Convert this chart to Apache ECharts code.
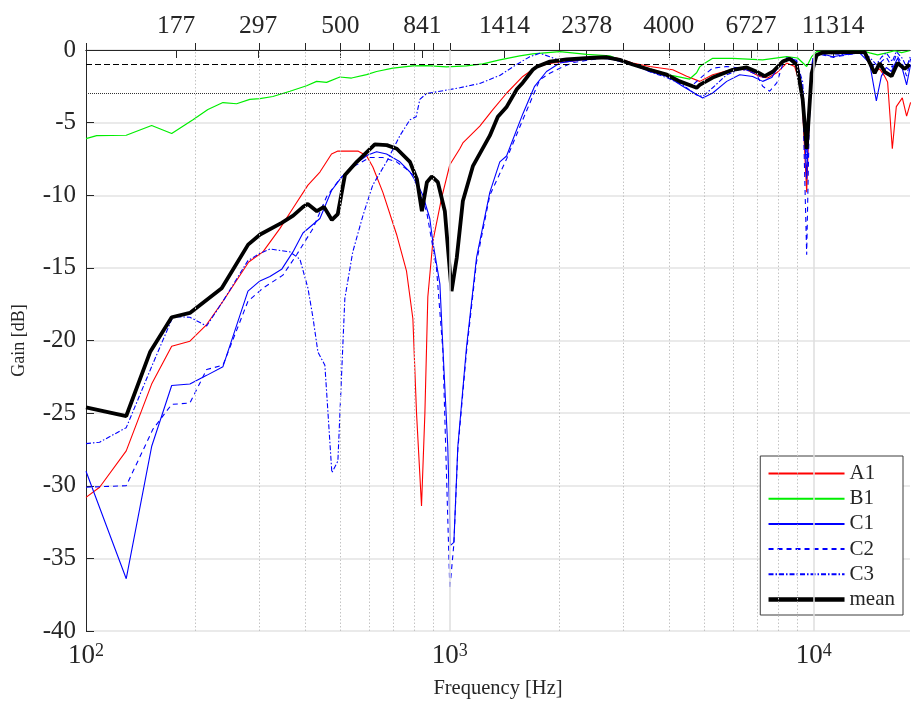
<!DOCTYPE html>
<html>
<head>
<meta charset="utf-8">
<script src="https://cdn.jsdelivr.net/npm/echarts@6/dist/echarts.min.js"></script>
<style>
  html, body { margin: 0; padding: 0; background: #fff; }
  #chart { width: 911px; height: 704px; }
</style>
</head>
<body>
<div id="chart"></div>
<script>
// Frequency response per channel: frequency [Hz] and gain [dB]
const freqA1 = [100, 109, 129, 151.5, 172, 193, 214.6, 237.9, 280, 306.4, 341, 370.5, 407.4, 439.5, 473, 492.4, 558.8, 590.4, 614.4, 654.6, 714, 760, 791.5, 810, 836, 854, 870, 898, 949, 1000, 1065, 1086, 1209, 1313, 1434, 1587, 1734, 1919, 2177, 2583, 2876, 3183, 3544, 4099, 4478, 4863, 5278, 5990, 6545, 7106, 7476, 7916, 8432, 8869, 9268, 9568, 9750, 9937, 10387, 13808, 14712, 15185, 15668, 15969, 16451, 16873, 17526, 18010, 18470];
const gainA1 = [-30.8, -30.1, -27.6, -23.0, -20.4, -20.05, -18.9, -17.3, -14.6, -13.9, -12.3, -10.9, -9.3, -8.4, -7.16, -6.96, -6.96, -7.28, -8.05, -9.8, -12.7, -15.2, -18.5, -25.0, -31.4, -25.0, -17.0, -13.2, -10.2, -7.9, -6.8, -6.4, -5.24, -4.1, -2.96, -1.82, -1.14, -0.9, -0.77, -0.46, -0.55, -0.9, -1.14, -1.36, -1.8, -2.16, -1.7, -1.32, -1.36, -1.82, -1.93, -1.57, -0.9, -1.14, -2.7, -9.8, -3.9, -0.68, -0.18, -0.15, -1.5, -1.3, -1.8, -2.2, -6.8, -3.9, -3.3, -4.55, -3.6];

const freqB1 = [100, 107, 129, 151.5, 172, 196.8, 216.3, 237.9, 259.4, 282, 300.6, 326.4, 363.5, 404, 430.4, 458.4, 498.6, 536.9, 590.4, 629, 697.4, 791.5, 863, 979, 1111, 1233, 1372, 1557, 1690, 2006, 2379, 2752, 2931, 3544, 4099, 4563, 4768, 4863, 4955, 5278, 5990, 7243, 8432, 9036, 9568, 9874, 10191, 13635, 14251, 14994, 15868, 16691, 17449, 18353];
const gainB1 = [-6.1, -5.9, -5.87, -5.2, -5.75, -4.8, -4.1, -3.62, -3.7, -3.4, -3.35, -3.2, -2.84, -2.46, -2.16, -2.23, -1.86, -1.93, -1.7, -1.48, -1.25, -1.09, -1.07, -1.16, -1.09, -0.95, -0.68, -0.4, -0.27, -0.11, -0.3, -0.4, -0.68, -1.3, -1.77, -2.0, -1.57, -1.16, -1.0, -0.57, -0.57, -0.68, -0.46, -0.55, -1.14, -0.46, -0.11, -0.05, -0.2, -0.34, -0.2, -0.05, -0.18, -0.05];

const freqC1 = [100, 129, 151.5, 172, 193, 214.6, 237.9, 278.7, 300.6, 320.3, 344.9, 370.5, 394.7, 439.5, 473, 504, 541, 595, 629, 670, 729, 777, 817, 843, 881, 898, 939, 957, 987, 1004, 1026, 1052, 1111, 1184, 1288, 1372, 1432, 1587, 1710, 1844, 2006, 2276, 2583, 2876, 3183, 3544, 3947, 4366, 4768, 4955, 5278, 5768, 6262, 6798, 7243, 7668, 8068, 8486, 8981, 9328, 9568, 9628, 9937, 10387, 11276, 12014, 13380, 14251, 14870, 15350, 15838, 16349, 17014, 17558, 18010, 18470];
const gainC1 = [-29.0, -36.4, -27.3, -23.1, -23.0, -22.4, -21.8, -16.6, -15.9, -15.6, -15.1, -13.9, -12.6, -11.6, -9.67, -8.75, -7.96, -7.23, -7.0, -7.16, -7.7, -8.4, -9.3, -10.0, -11.6, -13.2, -16.1, -20.5, -27.3, -34.1, -33.9, -27.3, -20.5, -14.3, -9.8, -7.7, -7.3, -4.4, -2.5, -1.48, -0.9, -0.68, -0.57, -0.65, -1.0, -1.48, -1.8, -2.5, -3.07, -3.3, -2.96, -2.16, -1.7, -1.82, -2.16, -1.9, -1.0, -0.57, -0.7, -2.7, -8.9, -7.0, -0.68, -0.2, -0.46, -0.34, -0.2, -0.9, -3.5, -1.8, -1.2, -1.48, -0.57, -1.36, -2.4, -1.0];

const freqC2 = [100, 129, 152.8, 172, 193, 214.6, 237.9, 278.7, 306.4, 347.7, 379.2, 420.4, 458.4, 498.6, 541.4, 602.8, 654.6, 714, 760, 791.5, 863, 919, 957, 1000, 1026, 1052, 1111, 1184, 1288, 1432, 1587, 1767, 1883, 2006, 2177, 2583, 2876, 3183, 3544, 3947, 4366, 4652, 4955, 5278, 5768, 6382, 6973, 7243, 7571, 7916, 8221, 8592, 9036, 9328, 9568, 9750, 9937, 10387, 11276, 13380, 14251, 14870, 15350, 15838, 16451, 16873, 17558, 18010, 18470];
const gainC2 = [-30.1, -30.0, -26.1, -24.4, -24.3, -22.0, -21.7, -17.3, -16.4, -15.5, -14.1, -12.3, -10.1, -8.87, -8.05, -7.4, -7.4, -7.7, -8.2, -8.6, -11.1, -15.0, -20.7, -37.1, -34.0, -27.5, -20.8, -14.6, -10.0, -7.5, -4.8, -2.05, -1.6, -1.25, -0.87, -0.57, -0.6, -1.0, -1.4, -1.8, -2.3, -2.4, -1.8, -1.25, -1.14, -1.25, -1.7, -2.5, -2.84, -2.27, -1.0, -0.46, -0.9, -3.0, -14.1, -3.5, -0.8, -0.3, -0.5, -0.2, -0.7, -1.4, -0.8, -0.5, -1.2, -0.3, -1.0, -1.8, -0.6];

const freqC3 = [100, 109, 129, 151.5, 173.4, 193, 214.6, 237.9, 278.7, 300.6, 320.3, 363.5, 387.2, 407.4, 420.4, 434, 453.5, 474, 492.4, 514.6, 541, 577, 614, 670, 729, 777, 808, 827, 863, 939, 1065, 1209, 1372, 1525, 1659, 1767, 1883, 2006, 2096, 2379, 2700, 3183, 3544, 3947, 4366, 4768, 4955, 5278, 5768, 6262, 6798, 7243, 7668, 8068, 8486, 8981, 9328, 9568, 9750, 9937, 10387, 12014, 13380, 14251, 14870, 15350, 15838, 16451, 16873, 17558, 18010, 18470];
const gainC3 = [-27.1, -27.0, -26.0, -21.8, -18.35, -18.4, -19.0, -17.3, -14.5, -14.0, -13.7, -13.9, -14.4, -16.4, -18.4, -20.8, -21.7, -29.1, -28.3, -17.1, -13.9, -11.4, -9.3, -7.7, -5.9, -4.8, -4.6, -3.4, -3.0, -2.84, -2.6, -2.3, -1.75, -1.0, -0.46, -0.23, -0.46, -0.73, -0.8, -0.6, -0.57, -1.0, -1.5, -1.9, -2.4, -3.1, -3.2, -2.6, -1.7, -1.35, -1.45, -1.9, -1.6, -0.9, -0.5, -0.8, -2.2, -7.5, -3.0, -0.6, -0.2, -0.3, -0.15, -0.5, -1.0, -0.5, -0.2, -0.8, -0.1, -0.6, -1.2, -0.4];

const freqMean = [100, 129, 150, 172, 193, 236, 279, 301, 345, 371, 395, 407, 431, 451, 474, 492, 515, 555, 622, 671, 715, 777, 812, 838, 865, 892, 927, 969, 1011, 1045, 1086, 1157, 1288, 1355, 1434, 1528, 1587, 1690, 1734, 1883, 2096, 2424, 2700, 2931, 3183, 3544, 3947, 4284, 4652, 4768, 4863, 5278, 5990, 6545, 6973, 7336, 7719, 8221, 8592, 8981, 9328, 9568, 9874, 10191, 10585, 12014, 13808, 14712, 15185, 15668, 16379, 17014, 17783, 18353];
const gainMean = [-24.6, -25.2, -20.8, -18.4, -18.1, -16.4, -13.4, -12.7, -11.9, -11.4, -10.8, -10.6, -11.1, -10.8, -11.7, -11.3, -8.6, -7.7, -6.5, -6.55, -6.8, -7.7, -8.9, -11.1, -9.1, -8.7, -9.1, -11.1, -16.6, -14.3, -10.4, -8.0, -5.9, -4.6, -3.9, -2.7, -2.25, -1.36, -1.15, -0.8, -0.64, -0.55, -0.5, -0.68, -1.0, -1.36, -1.7, -2.16, -2.5, -2.6, -2.4, -1.9, -1.36, -1.2, -1.5, -1.8, -1.5, -0.8, -0.6, -1.0, -3.4, -6.8, -1.6, -0.35, -0.18, -0.15, -0.15, -1.6, -0.9, -1.5, -1.8, -0.9, -1.3, -1.0];

// Axis ranges, ticks and reference levels
const freqMin = 100;
const freqMax = 18400;
const bandTicks = [177, 297, 500, 841, 1414, 2378, 4000, 6727, 11314];
const bottomTicks = [100, 200, 300, 400, 500, 600, 700, 800, 900, 1000, 2000, 3000, 4000, 5000, 6000, 7000, 8000, 9000, 10000];
const decadeLabels = [100, 1000, 10000];
const minorGrid = [200, 300, 400, 500, 600, 700, 800, 900, 2000, 3000, 4000, 5000, 6000, 7000, 8000, 9000];
const majorGrid = [1000, 10000];
const levelDashed = -1;
const levelDotted = -3;

const FONT = '"Liberation Serif", "DejaVu Serif", serif';
const INK = '#262626';

function pairs(f, g) { return f.map((v, i) => [v, g[i]]); }

const chart = echarts.init(document.getElementById('chart'), null, { renderer: 'canvas' });

function curve(name, f, g, color, width, type, z) {
  return {
    name: name, type: 'line', xAxisIndex: 0, yAxisIndex: 0,
    data: pairs(f, g), symbol: 'none', showSymbol: false, smooth: false,
    lineStyle: { color: color, width: width, type: type }, itemStyle: { color: color },
    z: z, animation: false, silent: true
  };
}

const option = {
  animation: false,
  backgroundColor: '#ffffff',
  textStyle: { fontFamily: FONT, color: INK },
  grid: { left: 86, right: 1, top: 50, bottom: 67.5, containLabel: false },
  legend: {
    orient: 'vertical', right: 8, top: 456,
    data: ['A1', 'B1', 'C1', 'C2', 'C3', { name: 'mean', lineStyle: { width: 4.5 } }],
    itemWidth: 76, itemHeight: 14, itemGap: 4.2,
    padding: [7, 8, 5, 6],
    itemStyle: { opacity: 0, borderWidth: 0 },
    backgroundColor: '#ffffff', borderColor: '#3c3c3c', borderWidth: 1,
    textStyle: { fontFamily: FONT, fontSize: 21, color: INK },
    selectedMode: false
  },
  xAxis: [
    {
      type: 'log', logBase: 10, min: freqMin, max: freqMax, position: 'bottom',
      name: 'Frequency [Hz]', nameLocation: 'middle', nameGap: 47,
      nameTextStyle: { fontFamily: FONT, fontSize: 20.5, color: INK },
      axisLine: { show: true, lineStyle: { color: INK, width: 1 } },
      axisTick: { show: true, inside: true, length: 7, customValues: bottomTicks, lineStyle: { color: INK } },
      axisLabel: {
        show: true, margin: 11, customValues: decadeLabels,
        formatter: function (v) { return '{b|10}{e|' + Math.round(Math.log10(v)) + '}'; },
        rich: {
          b: { fontFamily: FONT, fontSize: 27, color: INK, verticalAlign: 'bottom' },
          e: { fontFamily: FONT, fontSize: 18, color: INK, verticalAlign: 'top' }
        }
      },
      splitLine: { show: false }, minorTick: { show: false }
    },
    {
      type: 'log', logBase: 10, min: freqMin, max: freqMax, position: 'top',
      axisLine: { show: true, lineStyle: { color: INK, width: 1 } },
      axisTick: { show: true, inside: true, length: 8, customValues: bandTicks, lineStyle: { color: INK } },
      axisLabel: {
        show: true, margin: 11, customValues: bandTicks,
        fontFamily: FONT, fontSize: 25.5, color: INK,
        formatter: function (v) { return String(Math.round(v)); }
      },
      splitLine: { show: false }
    }
  ],
  yAxis: {
    type: 'value', min: -40, max: 0, interval: 5,
    name: 'Gain [dB]', nameLocation: 'middle', nameGap: 58,
    nameTextStyle: { fontFamily: FONT, fontSize: 18, color: INK },
    axisLine: { show: true, lineStyle: { color: INK, width: 1 } },
    axisTick: { show: true, inside: true, length: 8, lineStyle: { color: INK } },
    axisLabel: { fontFamily: FONT, fontSize: 25, color: INK, margin: 10 },
    splitLine: { show: true, lineStyle: { color: '#e3e3e3', width: 1.5 } }
  },
  series: [
    {
      name: 'grid', type: 'line', data: [], xAxisIndex: 0, yAxisIndex: 0, silent: true, z: 1,
      markLine: {
        silent: true, symbol: ['none', 'none'], label: { show: false }, animation: false,
        data: minorGrid.map(v => ({ xAxis: v, lineStyle: { color: '#c4c4c4', width: 1, type: [1.5, 2] } }))
          .concat(majorGrid.map(v => ({ xAxis: v, lineStyle: { color: '#dedede', width: 1.5, type: 'solid' } })))
          .concat([
            { yAxis: levelDashed, lineStyle: { color: '#000', width: 1, type: [6, 3] } },
            { yAxis: levelDotted, lineStyle: { color: '#333', width: 1, type: [1, 1] } }
          ])
      }
    },
    curve('A1', freqA1, gainA1, '#ff0000', 1.1, 'solid', 3),
    curve('B1', freqB1, gainB1, '#00ee00', 1.2, 'solid', 3),
    curve('C1', freqC1, gainC1, '#0000ff', 1.1, 'solid', 3),
    curve('C2', freqC2, gainC2, '#0000ff', 1.1, [5, 4], 3),
    curve('C3', freqC3, gainC3, '#0000ff', 1.1, [5, 2, 1.5, 2], 3),
    curve('mean', freqMean, gainMean, '#000000', 3.8, 'solid', 4)
  ]
};

chart.setOption(option);
</script>
</body>
</html>
